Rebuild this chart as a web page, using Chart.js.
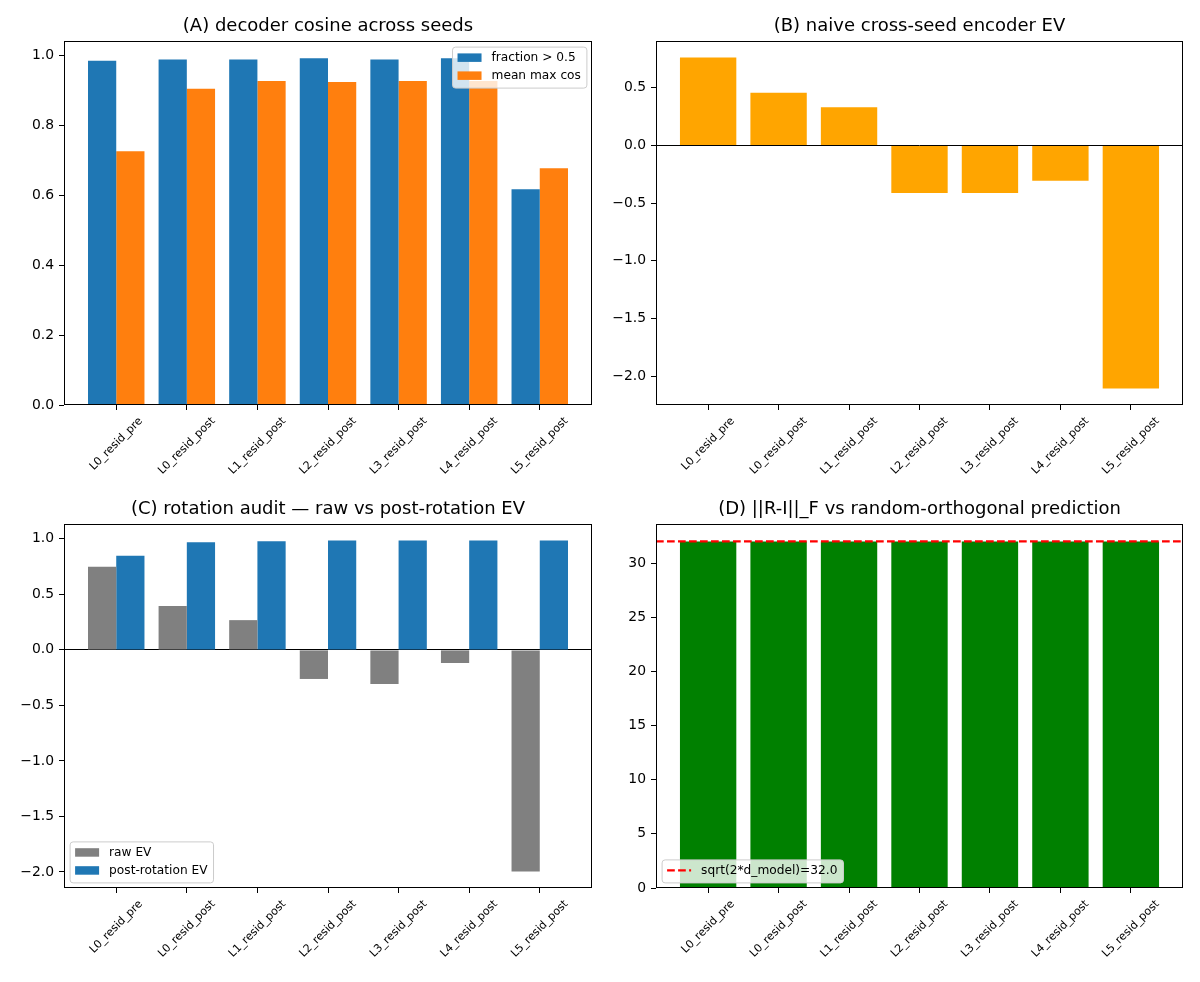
<!DOCTYPE html>
<html>
<head>
<meta charset="utf-8">
<title>seed comparison panels</title>
<script src="https://cdn.jsdelivr.net/npm/chart.js@4.4.1/dist/chart.umd.min.js"></script>
<style>
  html, body { margin: 0; padding: 0; background: #fff; }
  #fig { position: relative; width: 1200px; height: 982px; }
  #fig canvas { position: absolute; }
</style>
</head>
<body>
<div id="fig">
  <canvas id="chartA" width="600" height="491" style="left:0;top:0"></canvas>
  <canvas id="chartB" width="600" height="491" style="left:600px;top:0"></canvas>
  <canvas id="chartC" width="600" height="491" style="left:0;top:491px"></canvas>
  <canvas id="chartD" width="600" height="491" style="left:600px;top:491px"></canvas>
</div>
<script>
const categories = ['L0_resid_pre', 'L0_resid_post', 'L1_resid_post', 'L2_resid_post', 'L3_resid_post', 'L4_resid_post', 'L5_resid_post']

// (A) decoder cosine
const fractionAbove = [0.986, 0.990, 0.990, 0.993, 0.990, 0.993, 0.618]
const meanMaxCos = [0.727, 0.906, 0.928, 0.925, 0.928, 0.928, 0.678]
const ticksA = [0, 0.2, 0.4, 0.6, 0.8, 1.0]

// (B) naive encoder EV
const naiveEV = [0.761, 0.456, 0.331, -0.413, -0.413, -0.305, -2.105]
const ticksB = [-2.0, -1.5, -1.0, -0.5, 0, 0.5]

// (C) rotation audit
const rawEV = [0.750, 0.395, 0.268, -0.262, -0.307, -0.118, -1.996]
const postRotEV = [0.849, 0.970, 0.979, 0.985, 0.985, 0.985, 0.985]
const ticksC = [-2.0, -1.5, -1.0, -0.5, 0, 0.5, 1.0]

// (D) ||R-I||_F
const frobNorm = [31.98, 31.98, 31.98, 31.98, 31.98, 31.98, 31.98]
const randomOrthoPred = 32.0
const ticksD = [0, 5, 10, 15, 20, 25, 30]

const FONT = "'DejaVu Sans', 'Liberation Sans', sans-serif"
Chart.defaults.font.family = FONT
Chart.defaults.color = '#000'

const LEGEND_PX = 12.2

const minus = v => v.toFixed(1).replace('-', '\u2212')

// matplotlib style autoscale: 5% margins, bars stick to zero
function mplLimits (values, stickyZero) {
  let lo = Math.min(...values), hi = Math.max(...values)
  if (stickyZero) { lo = Math.min(lo, 0); hi = Math.max(hi, 0) }
  const pad = (hi - lo) * 0.05
  return [stickyZero && lo === 0 ? 0 : lo - pad, stickyZero && hi === 0 ? 0 : hi + pad]
}

const xIdx = categories.map((_, i) => i)
const points = arr => arr.map((v, i) => ({ x: xIdx[i], y: v }))

// frame, rotated category labels, boxed legend drawn like the original
const figPlugin = {
  id: 'figExtras',
  afterDraw (chart, args, opts) {
    const { ctx, chartArea: ca } = chart
    const x = chart.scales.x
    ctx.save()
    ctx.strokeStyle = '#000'
    ctx.lineWidth = 1
    ctx.strokeRect(ca.left + 0.5, ca.top + 0.5, ca.right - ca.left - 1, ca.bottom - ca.top - 1)

    ctx.font = '11.1px ' + FONT
    ctx.fillStyle = '#000'
    ctx.textAlign = 'center'
    ctx.textBaseline = 'middle'
    categories.forEach((lab, i) => {
      const w = ctx.measureText(lab).width
      const half = (w + 13) * Math.SQRT1_2 / 2
      ctx.save()
      ctx.translate(x.getPixelForValue(i), ca.bottom + 9.7 + half)
      ctx.rotate(-Math.PI / 4)
      ctx.fillText(lab, 0, 0)
      ctx.restore()
    })

    if (opts.corner) {
      ctx.font = LEGEND_PX + 'px ' + FONT
      const items = chart.data.datasets.filter(d => d.label).map(d => ({
        label: d.label, color: d.type === 'line' ? d.borderColor : d.backgroundColor, line: d.type === 'line'
      }))
      const textW = Math.max(...items.map(it => ctx.measureText(it.label).width))
      const w = 39.5 + textW + 5.5
      const h = items.length * 18 + 5
      let left, top
      if (opts.corner === 'upper right') { left = ca.right - 5.6 - w; top = ca.top + 5.6 }
      else { left = ca.left + 5.6; top = ca.bottom - 5.6 - h }
      ctx.beginPath()
      ctx.roundRect(left + 0.5, top + 0.5, w, h, 3)
      ctx.fillStyle = 'rgba(255,255,255,0.8)'
      ctx.fill()
      ctx.strokeStyle = '#cccccc'
      ctx.stroke()
      ctx.textAlign = 'left'
      items.forEach((it, i) => {
        const cy = top + 11 + i * 18
        if (it.line) {
          ctx.save()
          ctx.strokeStyle = it.color
          ctx.lineWidth = 2.1
          ctx.setLineDash([7.7, 3.3])
          ctx.beginPath()
          ctx.moveTo(left + 5.5, cy)
          ctx.lineTo(left + 29.5, cy)
          ctx.stroke()
          ctx.restore()
        } else {
          ctx.fillStyle = it.color
          ctx.fillRect(left + 5.5, cy - 4.2, 24, 8.5)
        }
        ctx.fillStyle = '#000'
        ctx.fillText(it.label, left + 39.5, cy)
      })
    }
    ctx.restore()
  }
}

function makeChart (id, cfg) {
  const top = cfg.row === 0
  const leftCol = cfg.col === 0
  return new Chart(document.getElementById(id), {
    type: 'bar',
    data: { datasets: cfg.datasets },
    plugins: [figPlugin],
    options: {
      responsive: false,
      animation: false,
      events: [],
      layout: { padding: { left: 0, right: leftCol ? 8 : 17, top: 0, bottom: 0 } },
      datasets: { bar: { categoryPercentage: 0.8, barPercentage: 1.0, borderWidth: 0 } },
      plugins: {
        legend: { display: false },
        tooltip: { enabled: false },
        title: {
          display: true,
          fullSize: false,
          text: cfg.title,
          color: '#000',
          font: { size: 18, weight: 'normal' },
          padding: { top: top ? 15.5 : 7.5, bottom: 3.9 }
        },
        figExtras: { corner: cfg.legendCorner || null }
      },
      scales: {
        x: {
          type: 'linear',
          min: -0.74,
          max: 6.74,
          offset: false,
          afterBuildTicks: s => { s.ticks = xIdx.map(v => ({ value: v })) },
          afterFit: s => { s.height = top ? 86 : 94 },
          ticks: { display: false },
          grid: { drawOnChartArea: false, offset: false, tickLength: 5, tickColor: '#000', lineWidth: 1 },
          border: { display: false }
        },
        y: {
          min: cfg.yLim[0],
          max: cfg.yLim[1],
          z: 1,
          afterBuildTicks: s => { s.ticks = cfg.yTicks.map(v => ({ value: v })) },
          afterFit: s => { s.width = leftCol ? 64 : 56 },
          ticks: { font: { size: 13.9 }, color: '#000', padding: 5, callback: cfg.fmt },
          grid: {
            color: c => (cfg.zeroLine && c.tick && c.tick.value === 0) ? '#000' : 'rgba(0,0,0,0)',
            tickColor: '#000',
            tickLength: 5,
            lineWidth: 1
          },
          border: { display: false }
        }
      }
    }
  })
}

makeChart('chartA', {
  row: 0, col: 0,
  title: '(A) decoder cosine across seeds',
  yLim: mplLimits(fractionAbove.concat(meanMaxCos), true),
  yTicks: ticksA,
  fmt: v => v.toFixed(1),
  legendCorner: 'upper right',
  datasets: [
    { label: 'fraction > 0.5', data: points(fractionAbove), backgroundColor: '#1f77b4' },
    { label: 'mean max cos', data: points(meanMaxCos), backgroundColor: '#ff7f0e' }
  ]
})

makeChart('chartB', {
  row: 0, col: 1,
  title: '(B) naive cross-seed encoder EV',
  yLim: mplLimits(naiveEV, true),
  yTicks: ticksB,
  fmt: minus,
  zeroLine: true,
  datasets: [
    { data: points(naiveEV), backgroundColor: '#ffa500' }
  ]
})

makeChart('chartC', {
  row: 1, col: 0,
  title: '(C) rotation audit \u2014 raw vs post-rotation EV',
  yLim: mplLimits(rawEV.concat(postRotEV), true),
  yTicks: ticksC,
  fmt: minus,
  zeroLine: true,
  legendCorner: 'lower left',
  datasets: [
    { label: 'raw EV', data: points(rawEV), backgroundColor: '#808080' },
    { label: 'post-rotation EV', data: points(postRotEV), backgroundColor: '#1f77b4' }
  ]
})

makeChart('chartD', {
  row: 1, col: 1,
  title: '(D) ||R-I||_F vs random-orthogonal prediction',
  yLim: mplLimits(frobNorm.concat([randomOrthoPred]), true),
  yTicks: ticksD,
  fmt: v => String(v),
  legendCorner: 'lower left',
  datasets: [
    {
      type: 'line',
      label: 'sqrt(2*d_model)=' + randomOrthoPred.toFixed(1),
      data: [{ x: -0.74, y: randomOrthoPred }, { x: 6.74, y: randomOrthoPred }],
      borderColor: '#ff0000',
      borderWidth: 2.1,
      borderDash: [7.7, 3.3],
      pointRadius: 0,
      fill: false,
      order: -1
    },
    { data: points(frobNorm), backgroundColor: '#008000' }
  ]
})
</script>
</body>
</html>
